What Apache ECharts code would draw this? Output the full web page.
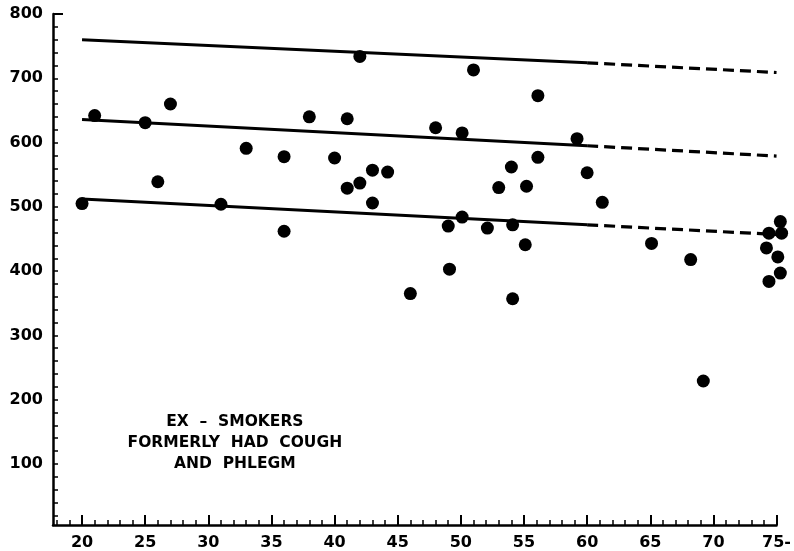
<!DOCTYPE html>
<html lang="en">
<head>
    <meta charset="UTF-8">
    <title>Ex-smokers</title>
    <script src="https://cdn.jsdelivr.net/npm/echarts@6/dist/echarts.min.js"></script>
    <style>
        html, body { margin: 0; height: 100%; background: #fff; }
        #main { width: 794px; height: 551px; }
    </style>
</head>
<body>
<div id="main"></div>
<script>
    // age of each subject
    var ages = [20, 21, 25, 26, 27, 31, 33, 36, 36, 38, 40, 41, 41, 42, 42, 43, 43, 44.2,
        48, 50.1, 51, 56.1, 59.2, 56.1, 54, 53, 55.2, 60, 61.2, 49, 50.1, 52.1, 54.1, 55.1,
        49.1, 65.1, 68.2, 46, 54.1, 69.2, 75.3, 74.4, 75.4, 74.2, 75.1, 75.3, 74.4];
    // measured value for each subject
    var values = [505, 642, 631, 539, 660, 504, 591, 578, 462, 640, 576, 637, 529, 537, 734, 557, 506, 554,
        623, 615, 713, 673, 606, 577, 562, 530, 532, 553, 507, 470, 484, 467, 472, 441,
        403, 443, 418, 365, 357, 229, 477, 459, 459, 436, 422, 397, 384];

    // three fitted lines: solid from 20 to 60, dashed 60 to 75
    var lineAges = [20, 60, 75];
    var upperLine = [760, 724, 709];
    var meanLine = [636, 595, 579];
    var lowerLine = [512, 472, 457];

    var xLabels = [20, 25, 30, 35, 40, 45, 50, 55, 60, 65, 70, 75];
    var yLabels = [100, 200, 300, 400, 500, 600, 700, 800];
    var noteLines = ['EX  –  SMOKERS', 'FORMERLY  HAD  COUGH', 'AND  PHLEGM'];

    var xMinor = [];
    for (var i = 18; i <= 75; i++) xMinor.push(i);
    var yMinor = [];
    for (var j = 20; j <= 800; j += 20) yMinor.push(j);

    function seg(ys, a, b) {
        var out = [];
        for (var k = a; k <= b; k++) out.push([lineAges[k], ys[k]]);
        return out;
    }

    var labelFont = { color: '#000', fontFamily: 'DejaVu Sans', fontWeight: 'bold', fontSize: 16 };

    var series = [{
        type: 'scatter',
        data: ages.map(function (a, i) { return [a, values[i]]; }),
        symbolSize: 13,
        clip: false,
        itemStyle: { color: '#000', opacity: 1 },
        z: 3
    }];
    [upperLine, meanLine, lowerLine].forEach(function (ys) {
        series.push({
            type: 'line', data: seg(ys, 0, 1), symbol: 'none',
            lineStyle: { color: '#000', width: 3 }, z: 2
        });
        series.push({
            type: 'line', data: seg(ys, 1, 2), symbol: 'none',
            lineStyle: { color: '#000', width: 3.2, type: [11, 6] }, z: 2
        });
    });

    var myChart = echarts.init(document.getElementById('main'));
    var option = {
        animation: false,
        grid: { left: 53, top: 14, width: 726, height: 513 },
        xAxis: [{
            type: 'value', min: 17.7, max: 75,
            axisLine: { lineStyle: { color: '#000', width: 2.5 } },
            axisTick: { show: true, inside: true, length: 10, customValues: xLabels,
                lineStyle: { color: '#000', width: 2 } },
            axisLabel: Object.assign({ customValues: xLabels, margin: 10,
                formatter: function (v) { return v === 75 ? '75-' : v; } }, labelFont),
            splitLine: { show: false }
        }, {
            type: 'value', min: 17.7, max: 75, position: 'bottom',
            axisLine: { show: false },
            axisTick: { show: true, inside: true, length: 5, customValues: xMinor,
                lineStyle: { color: '#000', width: 1.5 } },
            axisLabel: { show: false },
            splitLine: { show: false }
        }],
        yAxis: {
            type: 'value', min: 5, max: 800,
            axisLine: { show: true, lineStyle: { color: '#000', width: 2.5 } },
            axisTick: { show: true, inside: true, length: 5, customValues: yMinor,
                lineStyle: { color: '#000', width: 1.5 } },
            axisLabel: Object.assign({ customValues: yLabels, margin: 10 }, labelFont),
            splitLine: { show: false }
        },
        series: series
    };
    myChart.setOption(option);

    // note placed from the axis scale (centred near age 32, value 182)
    var pos = myChart.convertToPixel({ xAxisIndex: 0, yAxisIndex: 0 }, [32.1, 182]);
    myChart.setOption({
        graphic: [{
            type: 'text', x: pos[0], y: pos[1],
            style: {
                text: noteLines.join('\n'), align: 'center', verticalAlign: 'top',
                fontFamily: 'DejaVu Sans', fontWeight: 'bold', fontSize: 15.5,
                lineHeight: 21, fill: '#000'
            }
        }, {
            // longer top tick at 800
            type: 'line', shape: { x1: 53, y1: 14, x2: 63, y2: 14 },
            style: { stroke: '#000', lineWidth: 2 }
        }]
    });
</script>
</body>
</html>
